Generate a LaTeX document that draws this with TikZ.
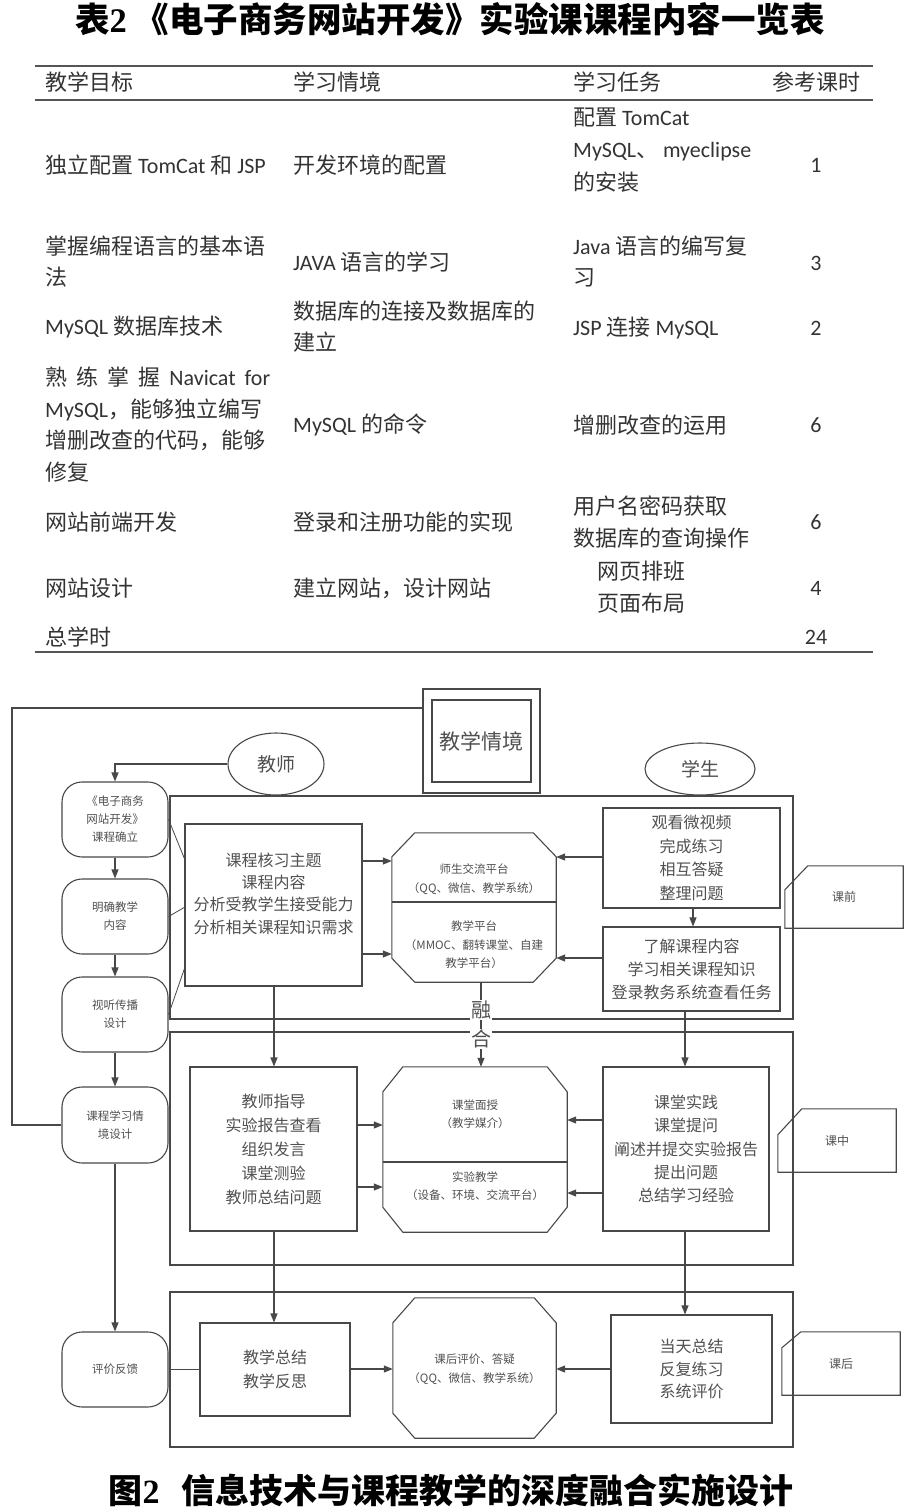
\documentclass[tikz,border=0pt]{standalone}
\usepackage{fontspec}
\setmainfont{Noto Sans CJK SC}
\newfontfamily\lat{Carlito}
\usetikzlibrary{arrows.meta,shapes.geometric}
\definecolor{ink}{HTML}{484848}
\definecolor{txtc}{HTML}{505050}
\definecolor{tabc}{HTML}{333333}
\definecolor{rulec}{HTML}{555555}
\tikzset{
  ln/.style={draw=ink, line width=1.1pt},
  arr/.style={ln, -{Triangle[length=9pt,width=7pt]}},
  box/.style={ln, rectangle, inner sep=0pt, text=txtc, align=center, font=\fontsize{16}{23.5}\selectfont},
  rbox/.style={ln, rectangle, rounded corners=20pt, minimum width=106pt, minimum height=75pt, inner sep=0pt, text=txtc, font=\fontsize{11.5}{18}\selectfont, align=center},
  txt/.style={text=txtc, inner sep=0pt, align=center},
  small/.style={txt, font=\fontsize{11.5}{18.5}\selectfont},
  ghost/.style={inner sep=0pt, rectangle},
  tab/.style={text=tabc, inner sep=0pt, anchor=west, align=left, font=\fontsize{22}{31.7}\selectfont},
  num/.style={text=tabc, inner sep=0pt, font=\lat\fontsize{22}{26}\selectfont},
  trule/.style={draw=rulec, line width=1.8pt},
}
\newcommand{\myocto}[3]{%
 \draw[ln] ([xshift=#2]#1.north west) -- ([xshift=-#2]#1.north east) -- ([yshift=-#3]#1.north east) -- ([yshift=#3]#1.south east) -- ([xshift=-#2]#1.south east) -- ([xshift=#2]#1.south west) -- ([yshift=#3]#1.south west) -- ([yshift=-#3]#1.north west) -- cycle;}
\newcommand{\mytag}[3]{%
 \draw[ln] ([xshift=#2]#1.north west) -- (#1.north east) -- (#1.south east) -- (#1.south west) -- ([yshift=-#3]#1.north west) -- cycle;}
\begin{document}
\begin{tikzpicture}[x=1pt,y=-1pt]
\useasboundingbox (0,0) rectangle (913,1512);

% ---------------- Table ----------------
\node[font=\bfseries\fontsize{34.5}{34.5}\selectfont, text=black, inner sep=0pt] (title) at (450,19) {表{\fontspec{Liberation Serif}\bfseries 2} 《电子商务网站开发》实验课课程内容一览表};

\coordinate (r1l) at (35,66);  \coordinate (r1r) at (873,66);
\coordinate (r2l) at (35,100); \coordinate (r2r) at (873,100);
\coordinate (r3l) at (35,652); \coordinate (r3r) at (873,652);
\draw[trule] (r1l) -- (r1r);
\draw[trule] (r2l) -- (r2r);
\draw[trule] (r3l) -- (r3r);

\node[tab] (h1) at (45,82) {教学目标};
\node[tab] (h2) at (293,82) {学习情境};
\node[tab] (h3) at (573,82) {学习任务};
\node[tab] (h4) at (772,82) {参考课时};

\node[tab] (c11) at (45,165) {独立配置 {\lat TomCat} 和 {\lat JSP}};
\node[tab] (c12) at (293,165) {开发环境的配置};
\node[tab, font=\fontsize{22}{32.5}\selectfont] (c13) at (573,150) {配置 {\lat TomCat}\\{\lat MySQL}、 {\lat myeclipse}\\的安装};
\node[num] (c14) at (816,165) {1};

\node[tab] (c21) at (45,261.5) {掌握编程语言的基本语\\法};
\node[tab] (c22) at (293,262) {{\lat JAVA} 语言的学习};
\node[tab] (c23) at (573,261.5) {{\lat Java} 语言的编写复\\习};
\node[num] (c24) at (816,263) {3};

\node[tab] (c31) at (45,327) {{\lat MySQL} 数据库技术};
\node[tab] (c32) at (293,326.5) {数据库的连接及数据库的\\建立};
\node[tab] (c33) at (573,328) {{\lat JSP} 连接 {\lat MySQL}};
\node[num] (c34) at (816,328) {2};

\node[tab] (c41) at (45,424.5) {\makebox[225pt][s]{熟\hfill 练\hfill 掌\hfill 握\hfill {\lat Navicat}\hfill {\lat for}}\\{\lat MySQL}，能够独立编写\\增删改查的代码，能够\\修复};
\node[tab] (c42) at (293,425) {{\lat MySQL} 的命令};
\node[tab] (c43) at (573,425) {增删改查的运用};
\node[num] (c44) at (816,425) {6};

\node[tab] (c51) at (45,522) {网站前端开发};
\node[tab] (c52) at (293,522) {登录和注册功能的实现};
\node[tab] (c53) at (573,522) {用户名密码获取\\数据库的查询操作};
\node[num] (c54) at (816,522) {6};

\node[tab] (c61) at (45,588) {网站设计};
\node[tab] (c62) at (293,588) {建立网站，设计网站};
\node[tab] (c63) at (597,587) {网页排班\\页面布局};
\node[num] (c64) at (816,588) {4};

\node[tab] (c71) at (45,637) {总学时};
\node[num] (c74) at (816,637) {24};

% ---------------- Diagram ----------------
% phase boxes
\node[box, minimum width=623pt, minimum height=223pt] (ph1) at (481.5,907.5) {};
\node[box, minimum width=623pt, minimum height=233pt] (ph2) at (481.5,1148.5) {};
\node[box, minimum width=623pt, minimum height=155pt] (ph3) at (481.5,1369.5) {};

% teaching context double box
\node[box, fill=white, minimum width=117pt, minimum height=104pt] (jxO) at (481.5,741) {};
\node[box, minimum width=99pt, minimum height=82pt, font=\fontsize{21}{21}\selectfont] (jx) at (481.5,741) {教学情境};

% ellipses
\node[ln, ellipse, fill=white, minimum width=96pt, minimum height=62pt, inner sep=0pt, text=txtc, font=\fontsize{19}{19}\selectfont] (teacher) at (276,764) {教师};
\node[ln, ellipse, fill=white, minimum width=110pt, minimum height=52pt, inner sep=0pt, text=txtc, font=\fontsize{19}{19}\selectfont] (student) at (700,769) {学生};

% left column
\node[rbox] (n1) at (115,819.5) {《电子商务\\网站开发》\\课程确立};
\node[rbox] (n2) at (115,916.5) {明确教学\\内容};
\node[rbox] (n3) at (115,1014.5) {视听传播\\设计};
\node[rbox, minimum height=76pt] (n4) at (115,1125) {课程学习情\\境设计};
\node[rbox] (n5) at (115,1369.5) {评价反馈};

% phase 1
\node[box, minimum width=177pt, minimum height=162pt] (A) at (273.5,905) {};
\node[txt, font=\fontsize{16}{22.4}\selectfont] (At) at (273.5,893.5) {课程核习主题\\课程内容\\分析受教学生接受能力\\分析相关课程知识需求};
\node[ghost, minimum width=164pt, minimum height=149pt] (o1) at (474,907.5) {};
\myocto{o1}{23pt}{24pt}
\coordinate (o1d) at (474,902);
\draw[ln] (o1.west |- o1d) -- (o1.east |- o1d);
\node[small] (o1a) at (474,879) {师生交流平台\\（QQ、微信、教学系统）};
\node[small] (o1b) at (474,945) {教学平台\\（MMOC、翻转课堂、自建\\教学平台）};
\node[box, minimum width=177pt, minimum height=100pt, font=\fontsize{16}{23.7}\selectfont] (S1) at (691.5,858) {观看微视频\\完成练习\\相互答疑\\整理问题};
\node[box, minimum width=177pt, minimum height=84pt, font=\fontsize{16}{23}\selectfont] (S2) at (691.5,969) {了解课程内容\\学习相关课程知识\\登录教务系统查看任务};
\node[ghost, minimum width=118pt, minimum height=62pt, text=txtc, font=\fontsize{12}{12}\selectfont] (t1) at (844,897) {课前};
\mytag{t1}{23pt}{24pt}

% phase 2
\node[box, minimum width=167pt, minimum height=164pt, font=\fontsize{16}{24}\selectfont] (B) at (273.5,1149) {教师指导\\实验报告查看\\组织发言\\课堂测验\\教师总结问题};
\node[ghost, minimum width=184pt, minimum height=165pt] (o2) at (475,1149.5) {};
\myocto{o2}{20pt}{25pt}
\coordinate (o2d) at (475,1162);
\draw[ln] (o2.west |- o2d) -- (o2.east |- o2d);
\node[small] (o2a) at (475,1114) {课堂面授\\（教学媒介）};
\node[small] (o2b) at (475,1186) {实验教学\\（设备、环境、交流平台）};
\node[box, minimum width=166pt, minimum height=164pt, font=\fontsize{16}{23.3}\selectfont] (C) at (686,1149) {课堂实践\\课堂提问\\阐述并提交实验报告\\提出问题\\总结学习经验};
\node[ghost, minimum width=118pt, minimum height=63pt, text=txtc, font=\fontsize{12}{12}\selectfont] (t2) at (837,1140.5) {课中};
\mytag{t2}{24pt}{26pt}

% phase 3
\node[box, minimum width=150pt, minimum height=93pt, font=\fontsize{16}{24}\selectfont] (D) at (275,1369.5) {教学总结\\教学反思};
\node[ghost, minimum width=163pt, minimum height=140pt] (o3) at (474.5,1368) {};
\myocto{o3}{22pt}{25pt}
\node[small] (o3a) at (474.5,1369) {课后评价、答疑\\（QQ、微信、教学系统）};
\node[box, minimum width=161pt, minimum height=108pt, font=\fontsize{16}{22.5}\selectfont] (E) at (691.5,1369) {当天总结\\反复练习\\系统评价};
\node[ghost, minimum width=118pt, minimum height=63pt, text=txtc, font=\fontsize{12}{12}\selectfont] (t3) at (841,1363.5) {课后};
\mytag{t3}{19pt}{16pt}

% ---------------- connectors ----------------
% outer loop
\coordinate (lpA) at (12,708);
\coordinate (lpB) at (12,1125);
\draw[ln] (jxO.west |- lpA) -- (lpA) -- (lpB) -- (n4.west);
% teacher to first node
\draw[arr] (teacher.west) -| (n1.north);
% left column chain
\draw[arr] (n1) -- (n2);
\draw[arr] (n2) -- (n3);
\draw[arr] (n3) -- (n4);
\draw[arr] (n4) -- (n5);
% left nodes to box A
\coordinate (a1) at (185,860);
\coordinate (a2) at (185,907);
\coordinate (a3) at (185,967);
\draw[ln, line width=0.8pt] (n1.east) -- (a1);
\draw[ln, line width=0.8pt] (n2.east) -- (a2);
\draw[ln, line width=0.8pt] (n3.east) -- (a3);
% A -> octagon 1
\coordinate (y861) at (0,861); \coordinate (y954) at (0,954);
\draw[arr] (A.east |- y861) -- (o1.west |- y861);
\draw[arr] (A.east |- y954) -- (o1.west |- y954);
% students -> octagon 1
\coordinate (y857) at (0,857); \coordinate (y958) at (0,958);
\draw[arr] (S1.west |- y857) -- (o1.east |- y857);
\draw[arr] (S2.west |- y958) -- (o1.east |- y958);
\coordinate (x693) at (693,0);
\draw[arr] (S1.south -| x693) -- (S2.north -| x693);
% fusion line
\coordinate (x481) at (481,0);
\draw[arr] (o1.south -| x481) -- (o2.north -| x481);
\node[fill=white, inner sep=1pt, text=txtc, font=\fontsize{20}{20}\selectfont] (rong) at (481,1010) {融};
\node[fill=white, inner sep=1pt, text=txtc, font=\fontsize{20}{20}\selectfont] (he) at (481,1039) {合};
% verticals
\coordinate (x274) at (274,0);
\coordinate (x685) at (685,0);
\draw[arr] (A.south -| x274) -- (B.north -| x274);
\draw[arr] (S2.south -| x685) -- (C.north -| x685);
\draw[arr] (B.south -| x274) -- (D.north -| x274);
\draw[arr] (C.south -| x685) -- (E.north -| x685);
% phase 2 arrows
\coordinate (y1125) at (0,1125); \coordinate (y1187) at (0,1187);
\coordinate (y1120) at (0,1120); \coordinate (y1193) at (0,1193);
\draw[arr] (B.east |- y1125) -- (o2.west |- y1125);
\draw[arr] (B.east |- y1187) -- (o2.west |- y1187);
\draw[arr] (C.west |- y1120) -- (o2.east |- y1120);
\draw[arr] (C.west |- y1193) -- (o2.east |- y1193);
% phase 3 arrows
\coordinate (y1369) at (0,1369);
\draw[ln] (n5.east) -- (D.west |- n5.east);
\draw[arr] (D.east |- y1369) -- (o3.west |- y1369);
\draw[arr] (E.west |- y1369) -- (o3.east |- y1369);

% caption
\node[font=\bfseries\fontsize{34}{34}\selectfont, text=black, inner sep=0pt] (cap) at (451,1490) {图{\fontspec{Liberation Serif}\bfseries 2}\hspace{22pt}信息技术与课程教学的深度融合实施设计};
\end{tikzpicture}
\end{document}
